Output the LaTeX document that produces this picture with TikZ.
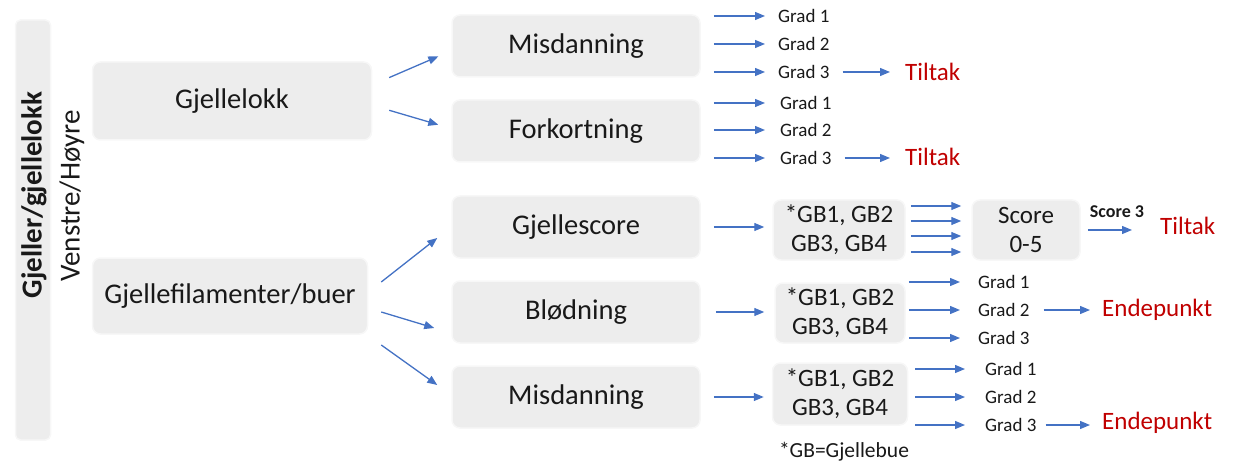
\documentclass[tikz,border=0pt]{standalone}
\usepackage{fontspec}
\setmainfont{Carlito}
\usetikzlibrary{arrows.meta, positioning}
\definecolor{boxgrey}{RGB}{237,237,237}
\definecolor{pilblue}{RGB}{68,114,196}
\definecolor{tiltred}{RGB}{192,0,0}
\tikzset{>={Triangle[length=10pt,width=8pt]}}

\begin{document}
\begin{tikzpicture}[x=1pt,y=-1pt,
    boks/.style={draw=black!3, line width=1.5pt, fill=boxgrey, rounded corners=8pt,
        inner sep=0pt, text=black!90, font=\fontsize{28.5}{30}\selectfont},
    midboks/.style={boks, minimum width=248pt, minimum height=62pt},
    gbboks/.style={boks, align=center, font=\fontsize{25}{29}\selectfont},
    grad/.style={inner sep=0pt, anchor=west, text=black!90, font=\fontsize{19}{21}\selectfont},
    utfall/.style={inner sep=0pt, anchor=west, text=tiltred, font=\fontsize{25}{27}\selectfont},
    pil/.style={->, draw=pilblue, line width=1.3pt}]
    \useasboundingbox (0,0) rectangle (1237,465);

    % venstre side
    \node[boks, minimum width=35pt, minimum height=420pt, rounded corners=5pt] (bar) at (33,230) {};
    \node[rotate=90, text=black!90, font=\fontsize{29}{31}\selectfont\bfseries] (tittel) at (34,195) {Gjeller/gjellelokk};
    \node[rotate=90, text=black!90, font=\fontsize{29}{31}\selectfont] (side) at (72,196) {Venstre/Høyre};

    \node[boks, minimum width=279pt, minimum height=78pt] (lokk) at (232,101) {Gjellelokk};
    \node[boks, minimum width=275pt, minimum height=76pt] (fil) at (230,296) {Gjellefilamenter/buer};

    % midten
    \node[midboks] (mis1) at (576,46) {Misdanning};
    \node[midboks] (fork) at (576,131) {Forkortning};
    \node[midboks] (score) at (576,227) {Gjellescore};
    \node[midboks] (blod) at (576,312) {Blødning};
    \node[midboks] (mis2) at (576,397) {Misdanning};

    \draw[pil, shorten <=1pt, shorten >=1pt] ([xshift=16pt,yshift=23pt]lokk.east) -- ([xshift=-12pt,yshift=-10pt]mis1.west);
    \draw[pil, shorten <=1pt, shorten >=1pt] ([xshift=16pt,yshift=-9pt]lokk.east) -- ([xshift=-12pt,yshift=6pt]fork.west);
    \draw[pil] ([xshift=13pt,yshift=14pt]fil.east) -- ([xshift=-14pt,yshift=-11pt]score.west);
    \draw[pil] ([xshift=13pt,yshift=-16pt]fil.east) -- ([xshift=-17pt,yshift=-16pt]blod.west);
    \draw[pil] ([xshift=13pt,yshift=-49pt]fil.east) -- ([xshift=-14pt,yshift=12pt]mis2.west);

    % gjellelokk, grader
    \node[grad] (g11) at (778,16) {Grad 1};
    \node[grad] (g12) at (778,44) {Grad 2};
    \node[grad] (g13) at (778,72) {Grad 3};
    \node[grad] (g21) at (780,103) {Grad 1};
    \node[grad] (g22) at (780,130) {Grad 2};
    \node[grad] (g23) at (780,158) {Grad 3};
    \node[utfall] (t1) at (905,72) {Tiltak};
    \node[utfall] (t2) at (905,157) {Tiltak};

    \foreach \g in {g11,g12,g13}
        \draw[pil, shorten <=13pt, shorten >=13pt] (mis1.east |- \g.west) -- (\g.west);
    \foreach \g in {g21,g22,g23}
        \draw[pil, shorten <=13pt, shorten >=15pt] (fork.east |- \g.west) -- (\g.west);
    \draw[pil, shorten <=13pt, shorten >=15pt] (g13.east) -- (t1.west |- g13.east);
    \draw[pil, shorten <=13pt, shorten >=15pt] (g23.east) -- (t2.west |- g23.east);

    % gjellescore
    \node[gbboks, minimum width=132pt, minimum height=60pt] (gb1) at (839,230) {*GB1, GB2\\GB3, GB4};
    \node[gbboks, minimum width=108pt, minimum height=60pt] (sc) at (1026,230) {Score\\0-5};
    \node[utfall] (t3) at (1160,226) {Tiltak};
    \node[inner sep=0pt, text=black!90, font=\fontsize{18}{20}\selectfont\bfseries] (s3) at (1117,212) {Score 3};

    \draw[pil, shorten <=13pt, shorten >=8pt] (score.east) -- (gb1.west |- score.east);
    \foreach \dy in {24,9,-6,-22}
        \draw[pil, shorten <=5pt, shorten >=10pt] ([yshift=\dy pt]gb1.east) -- ([yshift=\dy pt]sc.west);
    \draw[pil, shorten <=7pt, shorten >=28pt] (sc.east) -- (t3.west |- sc.east);

    % blødning
    \node[gbboks, minimum width=130pt, minimum height=60pt] (gb2) at (840,313) {*GB1, GB2\\GB3, GB4};
    \node[grad] (g31) at (978,282) {Grad 1};
    \node[grad] (g32) at (978,310) {Grad 2};
    \node[grad] (g33) at (978,338) {Grad 3};
    \node[utfall] (e1) at (1102,310) {Endepunkt};

    \draw[pil, shorten <=15pt, shorten >=10pt] (blod.east) -- (gb2.west |- blod.east);
    \foreach \g in {g31,g32,g33}
        \draw[pil, shorten <=3pt, shorten >=18pt] (gb2.east |- \g.west) -- (\g.west);
    \draw[pil, shorten <=14pt, shorten >=12pt] (g32.east) -- (e1.west |- g32.east);

    % misdanning, filamenter
    \node[gbboks, minimum width=135pt, minimum height=62pt] (gb3) at (840,394) {*GB1, GB2\\GB3, GB4};
    \node[grad] (g41) at (985,369) {Grad 1};
    \node[grad] (g42) at (985,397) {Grad 2};
    \node[grad] (g43) at (985,425) {Grad 3};
    \node[utfall] (e2) at (1102,423) {Endepunkt};

    \draw[pil, shorten <=13pt, shorten >=8pt] (mis2.east) -- (gb3.west |- mis2.east);
    \foreach \g in {g41,g42,g43}
        \draw[pil, shorten <=7pt, shorten >=20pt] (gb3.east |- \g.west) -- (\g.west);
    \draw[pil, shorten <=9pt, shorten >=12pt] (g43.east) -- (e2.west |- g43.east);

    \node[text=black!90, font=\fontsize{21.5}{23}\selectfont] (fot) at (844,452) {*GB=Gjellebue};
\end{tikzpicture}
\end{document}
